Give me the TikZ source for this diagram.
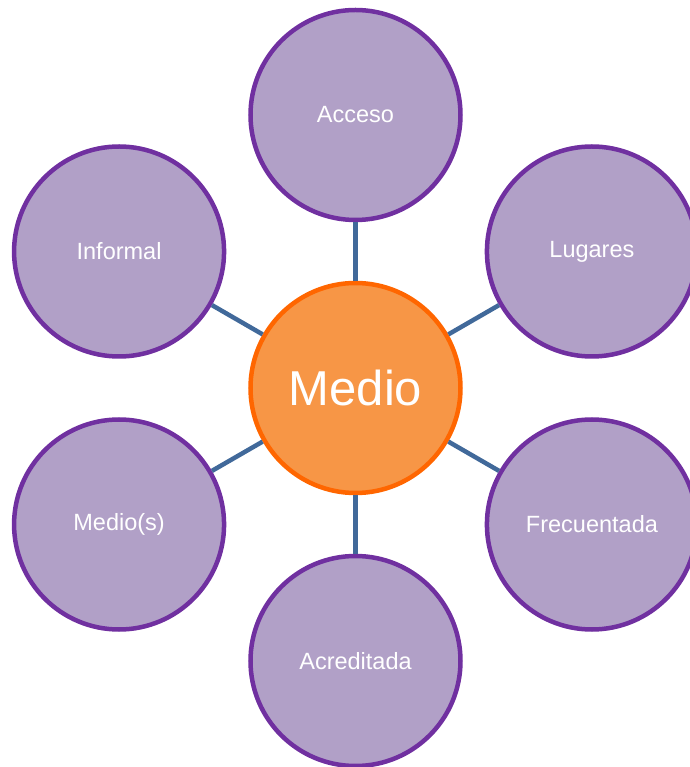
\documentclass[tikz,border=0pt]{standalone}
\usepackage{fontspec}
\setmainfont{Liberation Sans}
\definecolor{lila}{HTML}{B1A0C7}
\definecolor{lilaborde}{HTML}{7030A0}
\definecolor{naranja}{HTML}{F79646}
\definecolor{naranjaborde}{HTML}{FF6600}
\definecolor{enlace}{HTML}{41699A}
\begin{document}
\begin{tikzpicture}[x=1pt,y=1pt,
	vong/.style={circle,minimum size=210pt,inner sep=0pt,line width=4.5pt,
		draw=lilaborde,fill=lila,text=white,font=\fontsize{23.5}{28}\selectfont},
	giua/.style={vong,draw=naranjaborde,fill=naranja,font=\fontsize{49}{58}\selectfont},
	noi/.style={line width=4.5pt,draw=enlace}]
	\def\r{273} % khoang cach tam
	\useasboundingbox (-355.5,-379) rectangle (333.5,388);
	\node[giua] (medio) at (0,0) {Medio};
	\foreach \ten/\goc[count=\j] in {Acceso/90,Lugares/30,Frecuentada/-30,
		Acreditada/-90,Medio(s)/-150,Informal/150}
	{
		\node[vong] (n\j) at (\goc:\r) {\ten};
		\draw[noi] (medio)--(n\j);
	}
\end{tikzpicture}
\end{document}
